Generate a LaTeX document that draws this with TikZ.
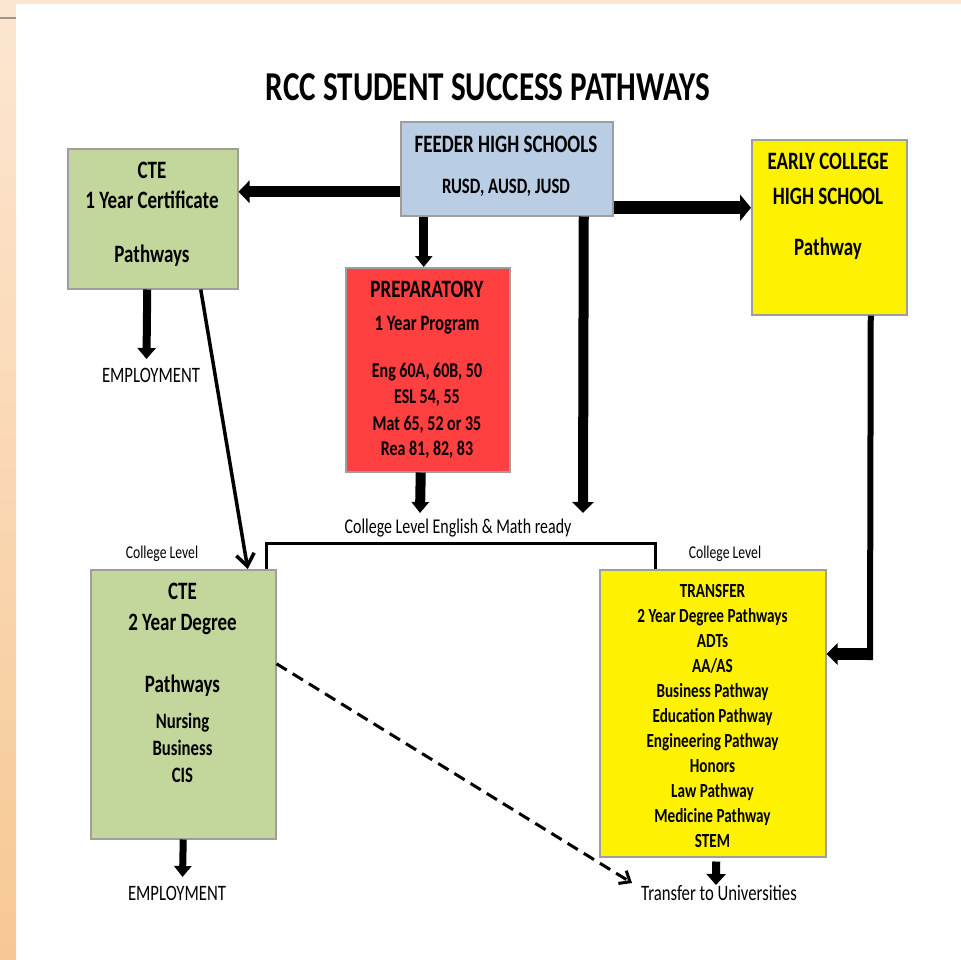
\documentclass[tikz,border=0pt]{standalone}
\usepackage{fontspec}
\setmainfont{Carlito}[FakeStretch=0.76]
\usepackage{xcolor}
\usepackage{tikz}
\usetikzlibrary{arrows.meta}

\definecolor{ctegreen}{HTML}{C3D69B}
\definecolor{feedblue}{HTML}{B9CDE5}
\definecolor{prepred}{HTML}{FF4040}
\definecolor{peachtop}{HTML}{FCE6D1}
\definecolor{peachbot}{HTML}{F7C894}

\begin{document}
\begin{tikzpicture}[x=1pt,y=-1pt,
  box/.style={draw=black!38,line width=1.5pt,anchor=north west,inner sep=0pt},
  hd/.style={font=\bfseries\fontsize{25}{30}\selectfont,anchor=base,inner sep=0pt},
  sub/.style={font=\bfseries\fontsize{#1}{26}\selectfont,anchor=base,inner sep=0pt},
  lbl/.style={font=\fontsize{#1}{26}\selectfont,anchor=base,inner sep=0pt},
  fat/.style n args={2}{line width=#1pt,-{Triangle[width=#2pt,length=11pt]}},
  thin/.style={line width=3.5pt,-{Straight Barb[width=18pt,length=12pt]}}]
\useasboundingbox (0,0) rectangle (961,959);
% page frame
\fill[peachtop] (0,0) rectangle (961,4);
\shade[top color=peachtop,bottom color=peachbot] (0,4) rectangle (16,959);
\draw[black!40,line width=2pt] (0,18) -- (16,18);
\node[font=\bfseries\fontsize{41}{48}\selectfont,anchor=base,inner sep=0pt] (title) at (488,100) {RCC STUDENT SUCCESS PATHWAYS};
% boxes
\node[box,fill=feedblue,minimum width=212pt,minimum height=94pt] (feed) at (400,121) {};
\node[box,fill=ctegreen,minimum width=170pt,minimum height=140pt] (cteA) at (67,148) {};
\node[box,fill=yellow,minimum width=155pt,minimum height=175pt] (early) at (751,139) {};
\node[box,fill=prepred,minimum width=164pt,minimum height=204pt] (prep) at (345,267) {};
\node[box,fill=ctegreen,minimum width=185pt,minimum height=269pt] (cteB) at (90,569) {};
\node[box,fill=yellow,minimum width=226pt,minimum height=287pt] (trans) at (599,569) {};
% box texts
\node[hd] (feedA) at (506,152) {FEEDER HIGH SCHOOLS};
\node[sub=22] (feedB) at (506,193) {RUSD, AUSD, JUSD};
\foreach \y/\t in {178/CTE, 208/1 Year Certificate, 262/Pathways}
   \node[hd] (cteA\y) at (152,\y) {\t};
\foreach \y/\t in {169/EARLY COLLEGE, 204/HIGH SCHOOL, 255/Pathway}
   \node[hd] (early\y) at (828,\y) {\t};
\node[hd] (prepA) at (427,297) {PREPARATORY};
\node[sub=22] (prepB) at (427,330) {1 Year Program};
\foreach \y/\t in {377/{Eng 60A, 60B, 50}, 403/{ESL 54, 55}, 430/{Mat 65, 52 or 35}, 455/{Rea 81, 82, 83}}
   \node[sub=21] (prep\y) at (427,\y) {\t};
\foreach \y/\t in {599/CTE, 630/2 Year Degree, 692/Pathways}
   \node[hd] (cteB\y) at (182.5,\y) {\t};
\foreach \y/\t in {728/Nursing, 755/Business, 782/CIS}
   \node[sub=22] (cteB\y) at (182.5,\y) {\t};
\foreach \y/\t in {597/TRANSFER, 622/2 Year Degree Pathways, 647/ADTs, 672/{AA/AS}, 697/Business Pathway,
   722/Education Pathway, 747/Engineering Pathway, 772/Honors, 797/Law Pathway, 822/Medicine Pathway, 847/STEM}
   \node[sub=20] (trans\y) at (712.5,\y) {\t};
% plain labels
\node[lbl=22] (empA) at (151,382) {EMPLOYMENT};
\node[lbl=22] (empB) at (177,900) {EMPLOYMENT};
\node[lbl=21] (ready) at (458,533) {College Level English \& Math ready};
\node[lbl=18] (lvlA) at (162,558) {College Level};
\node[lbl=18] (lvlB) at (725,558) {College Level};
\node[lbl=22] (univ) at (719,900) {Transfer to Universities};
% arrow ends
\coordinate (mathL) at (420,513);
\coordinate (mathR) at (583,513);
\coordinate (empAtip) at (146.5,359);
\coordinate (empBtip) at (182.5,877);
\coordinate (univtip) at (716,885);
\coordinate (dashtip) at (632,883);
\coordinate (bend) at (870,654);
\coordinate (brL) at (266,543);
\coordinate (brR) at (655,543);
% connectors
\draw[fat={11}{22}] ([yshift=-23pt]feed.west) -- ([yshift=-23pt]feed.west -| cteA.east);
\draw[fat={13}{26}] ([yshift=-39pt]feed.east) -- ([yshift=-39pt]feed.east -| early.west);
\draw[fat={9}{17}] ([xshift=-4pt]prep.north |- feed.south) -- ([xshift=-4pt]prep.north);
\draw[fat={10}{21}] ([xshift=77pt]feed.south) -- (mathR);
\draw[fat={10}{17}] ([xshift=-7pt]prep.south) -- (mathL);
\draw[fat={8}{18}] ([xshift=-5.5pt]cteA.south) -- (empAtip);
\draw[fat={7}{17}] (cteB.south) -- (empBtip);
\draw[fat={8}{19}] ([xshift=3.5pt,yshift=-4pt]trans.south) -- (univtip);
\draw[line width=6pt] ([xshift=41.5pt]early.south) -- ([yshift=-6pt]bend);
\draw[fat={12}{21}] ([xshift=3pt]bend) -- (bend -| trans.east);
\draw[line width=3pt] (brL |- cteB.north) -- (brL) -- (brR) -- (brR |- trans.north);
\draw[thin] ([xshift=48pt]cteA.south) -- ([xshift=64.5pt]cteB.north);
\draw[line width=3pt,dash pattern=on 12pt off 7pt,-{Straight Barb[width=15pt,length=9pt]}] ([yshift=40.5pt]cteB.east) -- (dashtip);
\end{tikzpicture}
\end{document}
